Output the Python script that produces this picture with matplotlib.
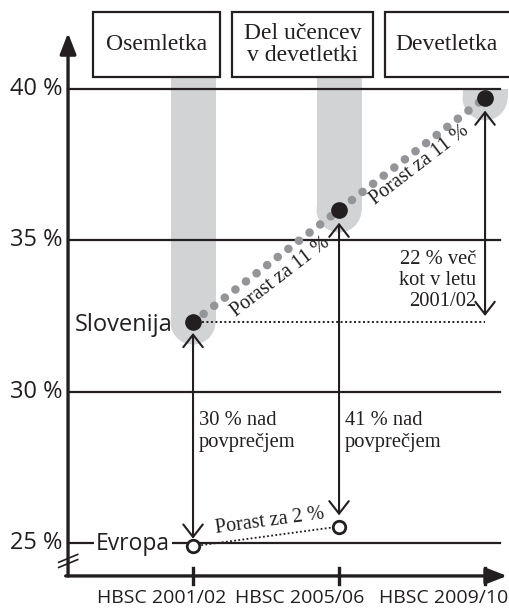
import numpy as np
import matplotlib.pyplot as plt
from matplotlib.patches import Rectangle, Ellipse

# data
surveys = ['HBSC 2001/02', 'HBSC 2005/06', 'HBSC 2009/10']
slovenia = [32.3, 36.0, 39.7]
europe = [24.9, 25.55]
box_labels = ['Osemletka', 'Del učencev\nv devetletki', 'Devetletka']
yticks = [25, 30, 35, 40]
growth_labels = ['Porast za 11 %', 'Porast za 11 %']
europe_growth = 'Porast za 2 %'
above_avg = ['30 % nad\npovprečjem', '41 % nad\npovprečjem']
more_than = '22 % več\nkot v letu\n2001/02'

serif = 'Liberation Serif'
sans = 'Open Sans'
grey = '#d1d3d4'
ink = '#231f20'

x = np.arange(len(surveys))

fig = plt.figure(figsize=(5.09, 6.12), dpi=100)
ax = fig.add_axes([0, 0, 1, 1])
ax.set_xlim(-1.322, 2.164)
ax.set_ylim(22.73, 42.93)
ax.axis('off')

# grey columns behind the points, rounded at the point
hw = 0.154
ry = 0.743
for i, v in enumerate(slovenia):
    top = 40.39 if i < 2 else 40.0
    r = Rectangle((x[i] - hw, v), 2 * hw, top - v, fc=grey, ec='none', zorder=1)
    ax.add_patch(r)
    e = Ellipse((x[i], v), 2 * hw, 2 * ry, fc=grey, ec='none', zorder=1)
    ax.add_patch(e)
    clip = Rectangle((x[i] - 1, 20), 2, top - 20, transform=ax.transData)
    e.set_clip_path(clip)

# horizontal grid lines
for t in yticks:
    ax.plot([-0.856, 2.103], [t, t], color=ink, lw=1.6, zorder=2)
    ax.text(-0.897, t, f'{t} %', ha='right', va='center', fontsize=17,
            family=sans, color=ink)

# axes with arrow heads
ax.annotate('', xy=(-0.856, 41.84), xytext=(-0.856, 23.92),
            arrowprops=dict(arrowstyle='-|>,head_length=0.9,head_width=0.35', lw=2.4,
                            color=ink, shrinkA=0, shrinkB=0, mutation_scale=14), zorder=3)
ax.annotate('', xy=(2.151, 23.92), xytext=(-0.872, 23.92),
            arrowprops=dict(arrowstyle='-|>,head_length=0.9,head_width=0.35', lw=2.4,
                            color=ink, shrinkA=0, shrinkB=0, mutation_scale=14), zorder=3)
label_x = [-0.212, 0.733, 1.719]
for i in x:
    ax.plot([i, i], [23.65, 24.18], color=ink, lw=2.4, zorder=3)
    ax.text(label_x[i], 23.2, surveys[i], ha='center', va='center', fontsize=14,
            family=sans, color=ink)

# axis break marks
for dy in (0, 0.17):
    ax.plot([-0.92, -0.79], [24.37 - dy, 24.63 - dy], color=ink, lw=1.2, zorder=4)

# boxes on top
bx = [(-0.685, 0.185), (0.267, 1.233), (1.315, 2.4)]
for (a, b), lab in zip(bx, box_labels):
    ax.add_patch(Rectangle((a, 40.385), b - a, 2.145, fc='white', ec=ink,
                           lw=1.6, zorder=5))
    cx = (a + b) / 2 if b < 2.2 else (a + 2.16) / 2
    ax.text(cx, 41.46, lab, ha='center', va='center', fontsize=17, family=serif,
            color=ink, linespacing=1.12, zorder=6)

# Slovenia trend (grey dots)
ax.plot(x, slovenia, color='#939598', lw=6.2, linestyle=(0, (0.001, 1.55)),
        dash_capstyle='round', zorder=4)
ax.plot(x, slovenia, 'o', color=ink, ms=11, zorder=7)
ax.text(-0.137, 32.2, 'Slovenija', ha='right', va='center', fontsize=17,
        family=sans, color=ink, zorder=6)

# black dotted reference line at the 2001/02 level
ax.plot([0.06, 2.0], [slovenia[0], slovenia[0]], color=ink, lw=1.4,
        linestyle=(0, (1, 1.3)), zorder=4)

# Europe
xe = x[:len(europe)]
ax.plot(xe, europe, color=ink, lw=1.3, linestyle=(0, (1, 1.3)), zorder=4)
ax.plot(xe, europe, 'o', mfc='white', mec=ink, mew=2, ms=9, zorder=7)
ax.text(-0.41, 24.99, 'Evropa', ha='center', va='center', fontsize=16.5, family=sans,
        color=ink, zorder=6, bbox=dict(fc='white', ec='none', pad=1.5))

# rotated growth labels
ang = np.degrees(np.arctan((slovenia[1] - slovenia[0]) * 30.3 / 146))
ax.text(0.596, 33.78, growth_labels[0], rotation=ang, ha='center', va='center',
        fontsize=14.5, family=serif, color=ink, rotation_mode='anchor', zorder=6)
ang2 = np.degrees(np.arctan((slovenia[2] - slovenia[1]) * 30.3 / 146))
ax.text(1.548, 37.48, growth_labels[1], rotation=ang2, ha='center', va='center',
        fontsize=14.5, family=serif, color=ink, rotation_mode='anchor', zorder=6)
ang3 = np.degrees(np.arctan((europe[1] - europe[0]) * 30.3 / 146))
ax.text(0.527, 25.73, europe_growth, rotation=ang3, ha='center', va='center',
        fontsize=14.5, family=serif, color=ink, rotation_mode='anchor', zorder=6)

# double arrows
aprops = dict(arrowstyle='<->,head_length=0.45,head_width=0.35', lw=1.5,
              color=ink, shrinkA=0, shrinkB=0, mutation_scale=20)
ax.annotate('', xy=(0, slovenia[0] - 0.36), xytext=(0, europe[0] + 0.25),
            arrowprops=aprops, zorder=4)
ax.annotate('', xy=(1, slovenia[1] - 0.42), xytext=(1, europe[1] + 0.37),
            arrowprops=aprops, zorder=4)
ax.annotate('', xy=(2, slovenia[2] - 0.42), xytext=(2, slovenia[0] + 0.2),
            arrowprops=aprops, zorder=4)

ax.text(0.04, 28.69, above_avg[0], ha='left', va='center', fontsize=14.8,
        family=serif, color=ink, linespacing=1.2, zorder=6)
ax.text(1.04, 28.69, above_avg[1], ha='left', va='center', fontsize=14.8,
        family=serif, color=ink, linespacing=1.2, zorder=6)
ax.text(1.938, 33.68, more_than, ha='right', va='center', fontsize=14.8,
        family=serif, color=ink, linespacing=1.15, zorder=6)

plt.savefig('out.png', dpi=100)
